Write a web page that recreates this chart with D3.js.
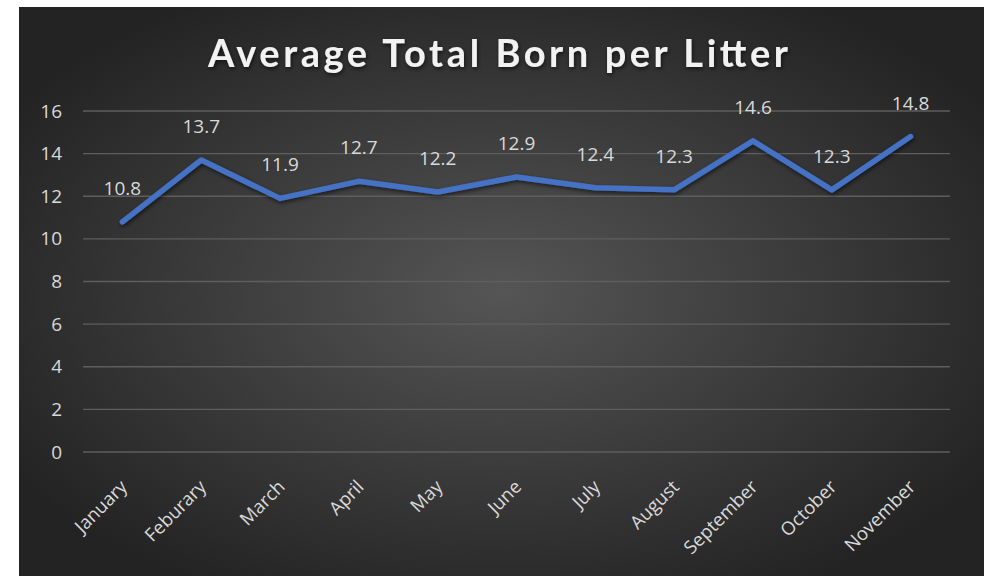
<!DOCTYPE html>
<html lang="en">
<head>
    <meta charset="UTF-8">
    <title>Average Total Born per Litter</title>
    <script src="https://d3js.org/d3.v7.min.js"></script>
    <style>
        body { margin: 0; background: #ffffff; font-family: "Open Sans", sans-serif; }
    </style>
</head>
<body>
    <script>
        // Chart data
        const months = ["January", "Feburary", "March", "April", "May", "June",
                        "July", "August", "September", "October", "November"];
        const avgBorn = [10.8, 13.7, 11.9, 12.7, 12.2, 12.9, 12.4, 12.3, 14.6, 12.3, 14.8];
        const yTicks = [0, 2, 4, 6, 8, 10, 12, 14, 16];

        const W = 984, H = 576;
        const margin = { top: 111, right: 34, bottom: 124, left: 83 },
              width = W - margin.left - margin.right,
              height = H - margin.top - margin.bottom;

        const root = d3.select("body").append("svg")
            .attr("width", W)
            .attr("height", H);

        const defs = root.append("defs");

        // Dark radial background like the Excel style
        const bg = defs.append("radialGradient")
            .attr("id", "bg-grad")
            .attr("cx", "50%").attr("cy", "50%").attr("r", "60%");
        bg.append("stop").attr("offset", "0%").attr("stop-color", "#555555");
        bg.append("stop").attr("offset", "100%").attr("stop-color", "#232323");

        const shadow = defs.append("filter").attr("id", "shadow")
            .attr("x", "-10%").attr("y", "-30%").attr("width", "120%").attr("height", "160%");
        shadow.append("feDropShadow")
            .attr("dx", 1).attr("dy", 2).attr("stdDeviation", 2)
            .attr("flood-color", "#000").attr("flood-opacity", 0.6);

        root.append("rect")
            .attr("x", 19).attr("y", 7)
            .attr("width", W - 19).attr("height", H - 7)
            .attr("fill", "url(#bg-grad)");

        // Title
        root.append("text")
            .attr("x", 208)
            .attr("y", 67)
            .attr("fill", "#f2f2f2")
            .attr("filter", "url(#shadow)")
            .attr("textLength", 580)
            .attr("lengthAdjust", "spacing")
            .style("font-family", "Lato, sans-serif")
            .style("font-size", "38px")
            .style("font-weight", "bold")
            .text("Average Total Born per Litter");

        const svg = root.append("g")
            .attr("transform", `translate(${margin.left},${margin.top})`);

        const x = d3.scaleBand().domain(months).range([0, width]);
        const y = d3.scaleLinear().domain([0, 16]).range([height, 0]);

        // Gridlines
        svg.append("g")
            .selectAll("line")
            .data(yTicks)
            .join("line")
            .attr("x1", 0).attr("x2", width)
            .attr("y1", d => y(d)).attr("y2", d => y(d))
            .attr("stroke", "#5e5e5e")
            .attr("stroke-width", 1.3);

        // Y axis labels
        const yAxis = svg.append("g")
            .call(d3.axisLeft(y).tickValues(yTicks).tickSize(0).tickPadding(21));
        yAxis.select(".domain").remove();
        yAxis.selectAll("text")
            .attr("fill", "#d9d9d9")
            .style("font-family", "'Open Sans', sans-serif")
            .style("font-size", "19px");

        // X axis labels
        const xAxis = svg.append("g")
            .attr("transform", `translate(0,${height})`)
            .call(d3.axisBottom(x).tickSize(0));
        xAxis.select(".domain").remove();
        xAxis.selectAll("text")
            .attr("fill", "#d9d9d9")
            .style("font-family", "'Open Sans', sans-serif")
            .style("font-size", "18.5px")
            .style("text-anchor", "end")
            .attr("x", 0).attr("y", 0)
            .attr("dx", 0).attr("dy", 0)
            .attr("transform", "translate(6,36) rotate(-45)");

        const pts = months.map((m, i) => ({ month: m, value: avgBorn[i] }));

        // Line
        const line = d3.line()
            .x(d => x(d.month) + x.bandwidth() / 2)
            .y(d => y(d.value));

        svg.append("path")
            .datum(pts)
            .attr("d", line)
            .attr("fill", "none")
            .attr("stroke", "#4472c4")
            .attr("stroke-width", 5.5)
            .attr("stroke-linejoin", "round")
            .attr("stroke-linecap", "round")
            .attr("filter", "url(#shadow)");

        // Data labels
        svg.append("g")
            .selectAll("text")
            .data(pts)
            .join("text")
            .attr("x", d => x(d.month) + x.bandwidth() / 2)
            .attr("y", d => y(d.value) - 27)
            .attr("text-anchor", "middle")
            .attr("fill", "#d9d9d9")
            .style("font-size", "19px")
            .text(d => d.value.toFixed(1));
    </script>
</body>
</html>
